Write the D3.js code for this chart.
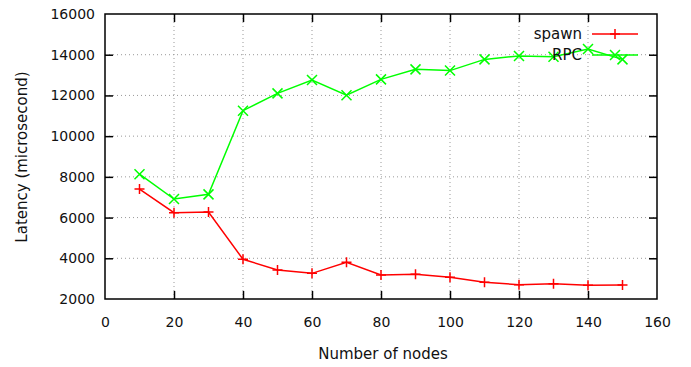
<!DOCTYPE html>
<html>
<head>
<meta charset="utf-8">
<script src="https://cdn.jsdelivr.net/npm/d3@7"></script>
<style>
  body { margin: 0; background: #fff; }
  text { font-family: "DejaVu Sans", Verdana, sans-serif; font-size: 15px; fill: #111; }
</style>
</head>
<body>
<div id="chart"></div>
<script>
'use strict'

// number of nodes
const nodes = [10, 20, 30, 40, 50, 60, 70, 80, 90, 100, 110, 120, 130, 140, 150]
// latency in microseconds
const spawn = [7400, 6240, 6270, 3950, 3430, 3260, 3800, 3180, 3210, 3070, 2820, 2700, 2750, 2670, 2690]
const rpc = [8130, 6910, 7140, 11250, 12100, 12760, 12010, 12790, 13280, 13220, 13770, 13940, 13900, 14280, 13770]
const xTicks = [0, 20, 40, 60, 80, 100, 120, 140, 160]
const yTicks = [2000, 4000, 6000, 8000, 10000, 12000, 14000, 16000]

const W = 691, H = 367
const m = {left: 105, top: 14, right: 34, bottom: 68}
const iw = W - m.left - m.right, ih = H - m.top - m.bottom

const svg = d3.select('#chart').append('svg')
  .attr('width', W).attr('height', H)

const x = d3.scaleLinear().domain([0, 160]).range([0, iw])
const y = d3.scaleLinear().domain([2000, 16000]).range([ih, 0])

const g = svg.append('g').attr('transform', `translate(${m.left},${m.top})`)

// dotted grid
g.append('g').selectAll('line').data(xTicks.slice(1, -1)).enter().append('line')
  .attr('x1', d => x(d)).attr('x2', d => x(d)).attr('y1', 0).attr('y2', ih)
  .attr('stroke', '#999').attr('stroke-dasharray', '1,3')
g.append('g').selectAll('line').data(yTicks.slice(1, -1)).enter().append('line')
  .attr('y1', d => y(d)).attr('y2', d => y(d)).attr('x1', 0).attr('x2', iw)
  .attr('stroke', '#999').attr('stroke-dasharray', '1,3')

// axes, ticks pointing inward on all sides
const tl = 8
const axBottom = g.append('g').attr('transform', `translate(0,${ih})`)
  .call(d3.axisBottom(x).tickValues(xTicks).tickSize(-tl).tickPadding(18))
const axTop = g.append('g')
  .call(d3.axisTop(x).tickValues(xTicks).tickSize(-tl).tickFormat(''))
const axLeft = g.append('g')
  .call(d3.axisLeft(y).tickValues(yTicks).tickSize(-tl).tickPadding(10).tickFormat(d3.format('d')))
const axRight = g.append('g').attr('transform', `translate(${iw},0)`)
  .call(d3.axisRight(y).tickValues(yTicks).tickSize(-tl).tickFormat(''))

;[axBottom, axTop, axLeft, axRight].forEach(a => {
  a.select('.domain').remove()
  a.selectAll('.tick line').attr('stroke', '#000').attr('stroke-width', 1.5)
  a.selectAll('text').attr('fill', '#111').style('font-size', '14px')
    .style('font-family', '"DejaVu Sans", Verdana, sans-serif')
})
// no tick marks on the frame corners
;[axBottom, axTop].forEach(a => a.selectAll('.tick').filter(d => d === 0 || d === 160).select('line').remove())
;[axLeft, axRight].forEach(a => a.selectAll('.tick').filter(d => d === 2000 || d === 16000).select('line').remove())

g.append('rect').attr('width', iw).attr('height', ih)
  .attr('fill', 'none').attr('stroke', '#000').attr('stroke-width', 1.5)

// axis titles
svg.append('text').attr('x', 383).attr('y', 359)
  .attr('text-anchor', 'middle').text('Number of nodes')
svg.append('text').attr('transform', `translate(27,157) rotate(-90)`)
  .attr('text-anchor', 'middle').text('Latency (microsecond)')

const line = d3.line().x(d => x(d[0])).y(d => y(d[1]))

const plus = (sel, color) => sel.append('path')
  .attr('d', 'M-5,0H5M0,-5V5').attr('stroke', color).attr('stroke-width', 1.5).attr('fill', 'none')
const cross = (sel, color) => sel.append('path')
  .attr('d', 'M-5,-5L5,5M-5,5L5,-5').attr('stroke', color).attr('stroke-width', 1.5).attr('fill', 'none')

const series = [
  {name: 'spawn', vals: spawn, color: '#ff0000', mark: plus},
  {name: 'RPC', vals: rpc, color: '#00ff00', mark: cross},
]

series.forEach((s, i) => {
  const pts = nodes.map((n, j) => [n, s.vals[j]])
  g.append('path').datum(pts).attr('d', line)
    .attr('fill', 'none').attr('stroke', s.color).attr('stroke-width', 1.5)
  pts.forEach(p => {
    s.mark(g.append('g').attr('transform', `translate(${x(p[0])},${y(p[1])})`), s.color)
  })

  // key
  const ky = 34 + i * 21
  svg.append('text').attr('x', 582).attr('y', ky).attr('dy', '0.35em')
    .attr('text-anchor', 'end').text(s.name)
  svg.append('line').attr('x1', 592).attr('x2', 638).attr('y1', ky).attr('y2', ky)
    .attr('stroke', s.color).attr('stroke-width', 1.5)
  s.mark(svg.append('g').attr('transform', `translate(615,${ky})`), s.color)
})
</script>
</body>
</html>
